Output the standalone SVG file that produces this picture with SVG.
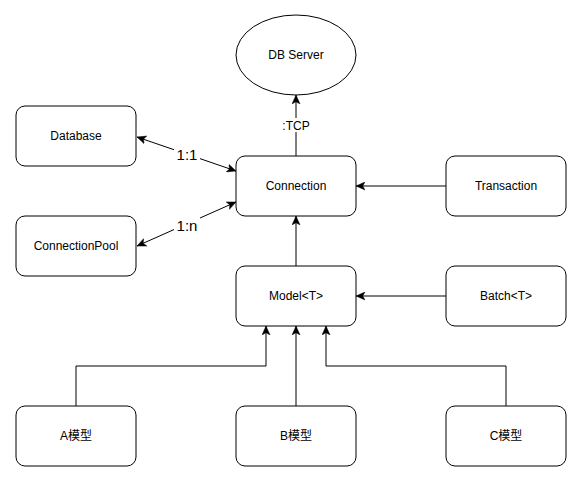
<svg xmlns="http://www.w3.org/2000/svg" width="583" height="483" viewBox="0 0 583 483">
<style>
.box{fill:#fff;stroke:#000;stroke-width:1}
.t{font-family:"Liberation Sans","Noto Sans CJK SC",sans-serif;font-size:12px;fill:#000;text-anchor:middle;dominant-baseline:central}
.lbl{font-family:"Liberation Sans",sans-serif;font-size:15px;fill:#000;text-anchor:middle;dominant-baseline:central}
.e{fill:none;stroke:#000;stroke-width:1}
</style>
<defs>
<marker id="arr" viewBox="0 0 10 10" refX="10" refY="5" markerWidth="9" markerHeight="9" markerUnits="userSpaceOnUse" orient="auto-start-reverse">
<path d="M0,0.5 L10,5 L0,9.5 L2.5,5 z" fill="#000" stroke="#000" stroke-width="0.5"/>
</marker>
</defs>
<rect width="583" height="483" fill="#fff"/>
<g id="connectors">
<path class="e" d="M296,156 L296,95" marker-end="url(#arr)"/>
<path class="e" d="M137,137 L236,171" marker-start="url(#arr)" marker-end="url(#arr)"/>
<path class="e" d="M137,246 L236,202" marker-start="url(#arr)" marker-end="url(#arr)"/>
<path class="e" d="M446,186 L356,186" marker-end="url(#arr)"/>
<path class="e" d="M296,266 L296,216" marker-end="url(#arr)"/>
<path class="e" d="M446,296 L356,296" marker-end="url(#arr)"/>
<path class="e" d="M76,406 L76,366 L266,366 L266,326" marker-end="url(#arr)"/>
<path class="e" d="M296,406 L296,326" marker-end="url(#arr)"/>
<path class="e" d="M506,406 L506,366 L326,366 L326,326" marker-end="url(#arr)"/>
<rect x="282" y="118" width="28" height="14" fill="#fff"/>
<text class="t" x="296" y="126">:TCP</text>
<rect x="174" y="145" width="26" height="18" fill="#fff"/>
<text class="lbl" x="187" y="154">1:1</text>
<rect x="174" y="216" width="26" height="18" fill="#fff"/>
<text class="lbl" x="187" y="225">1:n</text>
</g>
<g id="dbserver"><ellipse class="box" cx="296" cy="55" rx="60" ry="40"/><text class="t" x="296" y="55">DB Server</text></g>
<g id="database"><rect class="box" x="16" y="106" width="120" height="60" rx="9"/><text class="t" x="76" y="136">Database</text></g>
<g id="connection"><rect class="box" x="236" y="156" width="120" height="60" rx="9"/><text class="t" x="296" y="186">Connection</text></g>
<g id="transaction"><rect class="box" x="446" y="156" width="120" height="60" rx="9"/><text class="t" x="506" y="186">Transaction</text></g>
<g id="connectionpool"><rect class="box" x="16" y="216" width="120" height="60" rx="9"/><text class="t" x="76" y="246">ConnectionPool</text></g>
<g id="model"><rect class="box" x="236" y="266" width="120" height="60" rx="9"/><text class="t" x="296" y="296">Model&lt;T&gt;</text></g>
<g id="batch"><rect class="box" x="446" y="266" width="120" height="60" rx="9"/><text class="t" x="506" y="296">Batch&lt;T&gt;</text></g>
<g id="amodel"><rect class="box" x="16" y="406" width="120" height="60" rx="9"/><text class="t" x="76" y="436">A模型</text></g>
<g id="bmodel"><rect class="box" x="236" y="406" width="120" height="60" rx="9"/><text class="t" x="296" y="436">B模型</text></g>
<g id="cmodel"><rect class="box" x="446" y="406" width="120" height="60" rx="9"/><text class="t" x="506" y="436">C模型</text></g>
</svg>
